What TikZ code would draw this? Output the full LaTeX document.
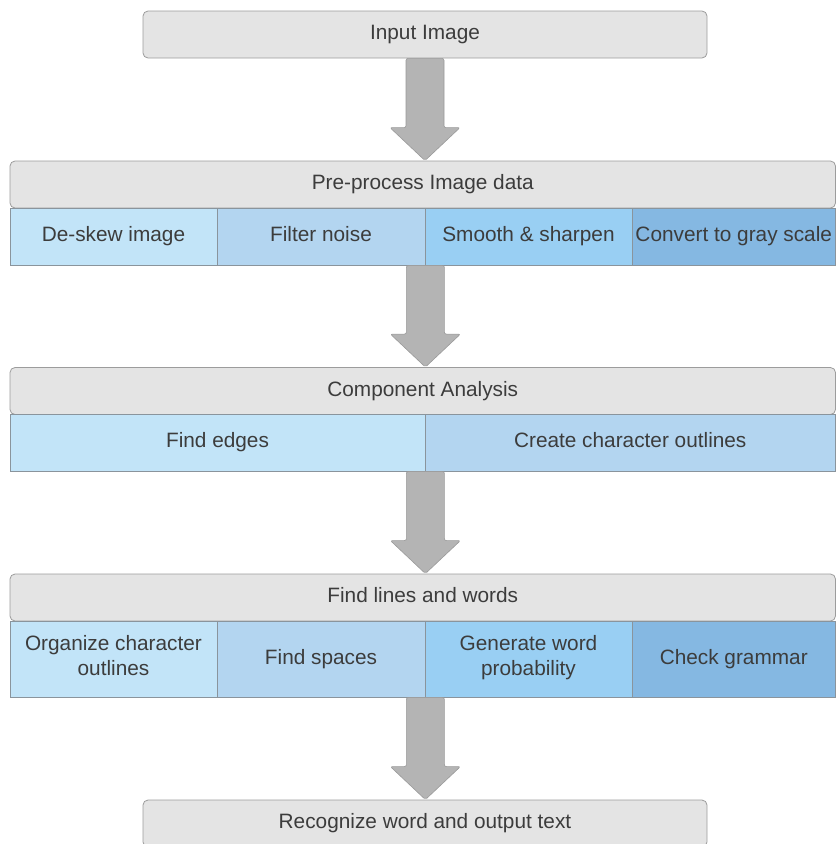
\documentclass[tikz,border=0pt]{standalone}
\usepackage{fontspec}
\setmainfont{Liberation Sans}
\usetikzlibrary{calc}

\definecolor{headfill}{HTML}{E4E4E4}
\definecolor{headline}{HTML}{9C9C9C}
\definecolor{cellline}{HTML}{8A949C}
\definecolor{txt}{HTML}{3C3C3C}
\definecolor{blueA}{HTML}{C2E4F8}
\definecolor{blueB}{HTML}{B3D5F0}
\definecolor{blueC}{HTML}{99CFF3}
\definecolor{blueD}{HTML}{85B8E2}
\definecolor{arrowfill}{HTML}{B4B4B4}
\definecolor{arrowline}{HTML}{9A9A9A}

\tikzset{
  label font/.style={font=\fontsize{20.8}{25}\selectfont, text=txt, align=center,
    execute at begin node={\rule{0pt}{17pt}},
    execute at end node={\rule[-7pt]{0pt}{7pt}}},
  stage/.style={label font, draw=headline, fill=headfill, rounded corners=5pt,
    line width=0.8pt, inner sep=0pt, minimum height=47pt},
  cellbox/.style={label font, draw=cellline, line width=0.8pt, inner sep=0pt},
  fatarrow/.style={fill=arrowfill, draw=arrowline, line width=0.6pt, rounded corners=2pt},
}

% broad block arrow from the bottom of one block to the top of the next
\newcommand\blockarrow[2]{%
  \path[fatarrow] let \p1=(#1), \p2=(#2) in
    (\x1-19pt,\y1) -- (\x1+19pt,\y1) -- (\x1+19pt,\y2+33pt) -- (\x1+35pt,\y2+33pt)
    -- (\x1,\y2) -- (\x1-35pt,\y2+33pt) -- (\x1-19pt,\y2+33pt) -- cycle;}

\begin{document}
\begin{tikzpicture}[x=1pt,y=-1pt]
\useasboundingbox (0,0) rectangle (837,844);
\clip (0,0) rectangle (837,844);

% stage 0: input
\node[stage, minimum width=564pt] (input) at (425,34.5) {Input Image};

% stage 1: pre-processing
\node[stage, minimum width=825.5pt] (pre) at (422.75,184.5) {Pre-process Image data};
\node[cellbox, fill=blueA, minimum width=207pt, minimum height=57pt] (p1) at (113.5,236.5) {De-skew image};
\node[cellbox, fill=blueB, minimum width=208pt, minimum height=57pt] (p2) at (321,236.5) {Filter noise};
\node[cellbox, fill=blueC, minimum width=207pt, minimum height=57pt] (p3) at (528.5,236.5) {Smooth \& sharpen};
\node[cellbox, fill=blueD, minimum width=203.5pt, minimum height=57pt] (p4) at (733.75,236.5) {Convert to gray scale};

% stage 2: component analysis
\node[stage, minimum width=825.5pt] (comp) at (422.75,391) {Component Analysis};
\node[cellbox, fill=blueA, minimum width=415pt, minimum height=57pt] (c1) at (217.5,442.5) {Find edges};
\node[cellbox, fill=blueB, minimum width=410.5pt, minimum height=57pt] (c2) at (630.25,442.5) {Create character outlines};

% stage 3: lines and words
\node[stage, minimum width=825.5pt] (lines) at (422.75,597.5) {Find lines and words};
\node[cellbox, fill=blueA, minimum width=207pt, minimum height=76pt] (f1) at (113.5,659) {Organize character\\outlines};
\node[cellbox, fill=blueB, minimum width=208pt, minimum height=76pt] (f2) at (321,659) {Find spaces};
\node[cellbox, fill=blueC, minimum width=207pt, minimum height=76pt] (f3) at (528.5,659) {Generate word\\probability};
\node[cellbox, fill=blueD, minimum width=203.5pt, minimum height=76pt] (f4) at (733.75,659) {Check grammar};

% stage 4: output
\node[stage, minimum width=564pt] (out) at (425,823.5) {Recognize word and output text};

% flow arrows
\blockarrow{input.south}{pre.north}
\blockarrow{p2.south east}{comp.north}
\blockarrow{c1.south east}{lines.north}
\blockarrow{f2.south east}{out.north}
\end{tikzpicture}
\end{document}
